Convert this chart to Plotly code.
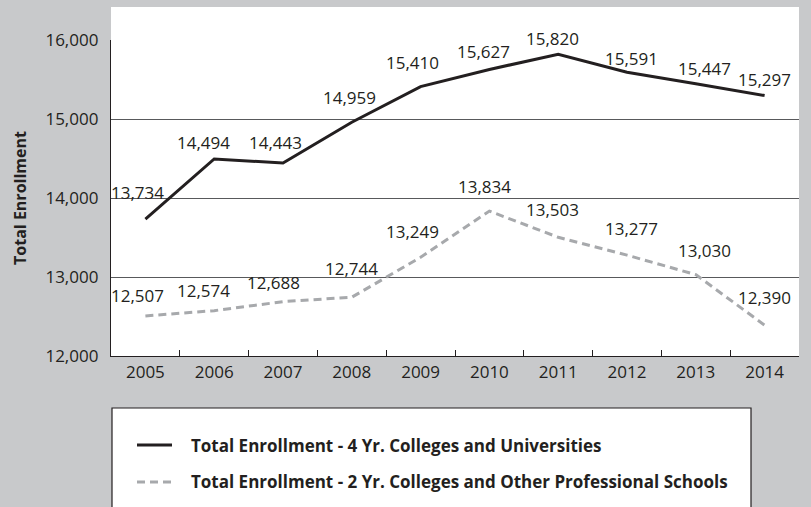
import plotly.graph_objects as go

years = ["2005", "2006", "2007", "2008", "2009", "2010", "2011", "2012", "2013", "2014"]
four_year = [13734, 14494, 14443, 14959, 15410, 15627, 15820, 15591, 15447, 15297]
two_year = [12507, 12574, 12688, 12744, 13249, 13834, 13503, 13277, 13030, 12390]
name_four = "Total Enrollment - 4 Yr. Colleges and Universities"
name_two = "Total Enrollment - 2 Yr. Colleges and Other Professional Schools"
y_title = "Total Enrollment"
y_ticks = [12000, 13000, 14000, 15000, 16000]

# label placement offsets (pixels) - style only
four_dx = [-8, -11, -8, -2, -8, -6, -6, 4, 9, 0]
four_dy = [27, 16, 21, 25, 24, 18, 16, 14, 15, 16]
two_dx = [-8, -11, -10, 0, -8, -5, -6, 4, 9, 0]
two_dy = [20, 20, 19, 29, 26, 25, 28, 27, 24, 28]

TXT = "#231f20"
BG = "#c8c9cb"
FONT = "Open Sans"
C4 = "#231f20"
C2 = "#a7a9ac"
DASH2 = "8px,5px"

# plot-area geometry in pixels (for converting layout pixel positions to paper units)
L, R, T, B = 111, 12, 40, 151
W, H = 811, 507
PW, PH = W - L - R, H - T - B


def px(X):
    return (X - L) / PW


def py(Y):
    return (H - B - Y) / PH


fig = go.Figure()
fig.add_trace(go.Scatter(x=years, y=four_year, mode="lines", name=name_four,
                         line=dict(color=C4, width=3)))
fig.add_trace(go.Scatter(x=years, y=two_year, mode="lines", name=name_two,
                         line=dict(color=C2, width=3, dash=DASH2)))

ann = []
for i, (v, dx, dy) in enumerate(zip(four_year, four_dx, four_dy)):
    ann.append(dict(x=i, y=v, text=f"{v:,}", showarrow=False, xshift=dx, yshift=dy,
                    xanchor="center", yanchor="middle", font=dict(size=17, color=TXT, family=FONT)))
for i, (v, dx, dy) in enumerate(zip(two_year, two_dx, two_dy)):
    ann.append(dict(x=i, y=v, text=f"{v:,}", showarrow=False, xshift=dx, yshift=dy,
                    xanchor="center", yanchor="middle", font=dict(size=17, color=TXT, family=FONT)))

# legend (drawn manually inside a box)
leg_rows = [(name_four, C4, "solid", 445), (name_two, C2, DASH2, 482)]
shapes = [
    dict(type="rect", xref="paper", yref="paper", x0=0, x1=1, y0=1, y1=py(7),
         fillcolor="white", line=dict(width=0), layer="below"),
    dict(type="rect", xref="paper", yref="paper", x0=px(112), x1=px(751),
         y0=py(520), y1=py(408), fillcolor="white",
         line=dict(color="#231f20", width=1.2), layer="below"),
]
for name, col, dash, Y in leg_rows:
    shapes.append(dict(type="line", xref="paper", yref="paper", x0=px(137), x1=px(172),
                       y0=py(Y), y1=py(Y), line=dict(color=col, width=3, dash=dash)))
    ann.append(dict(xref="paper", yref="paper", x=px(189), y=py(Y), text=name, showarrow=False,
                    xanchor="left", yanchor="middle",
                    font=dict(size=17, color=TXT, family=FONT, weight="bold")))

fig.update_layout(
    width=W, height=H,
    margin=dict(l=L, r=R, t=T, b=B),
    paper_bgcolor=BG, plot_bgcolor="white",
    font=dict(family=FONT, color=TXT, size=17),
    annotations=ann, shapes=shapes,
    showlegend=False,
    xaxis=dict(type="category", range=[-0.5, 9.5], showgrid=False, showline=True,
               linecolor="#231f20", linewidth=1.3,
               ticks="inside", tickson="boundaries", ticklen=6, tickcolor="#231f20", tickwidth=1,
               tickfont=dict(size=17, color=TXT), ticklabelstandoff=0,
               zeroline=False, fixedrange=True),
    yaxis=dict(range=[12000, 16000], tickvals=y_ticks, tickformat=",d", showgrid=True,
               gridcolor="#58595b", gridwidth=1, showline=True, linecolor="#231f20", linewidth=1.3,
               ticks="", zeroline=False, tickfont=dict(size=17, color=TXT), ticklabelstandoff=8,
               title=dict(text=y_title, font=dict(size=16, color=TXT, weight="bold"), standoff=14)),
)

fig.write_html("out.html")
